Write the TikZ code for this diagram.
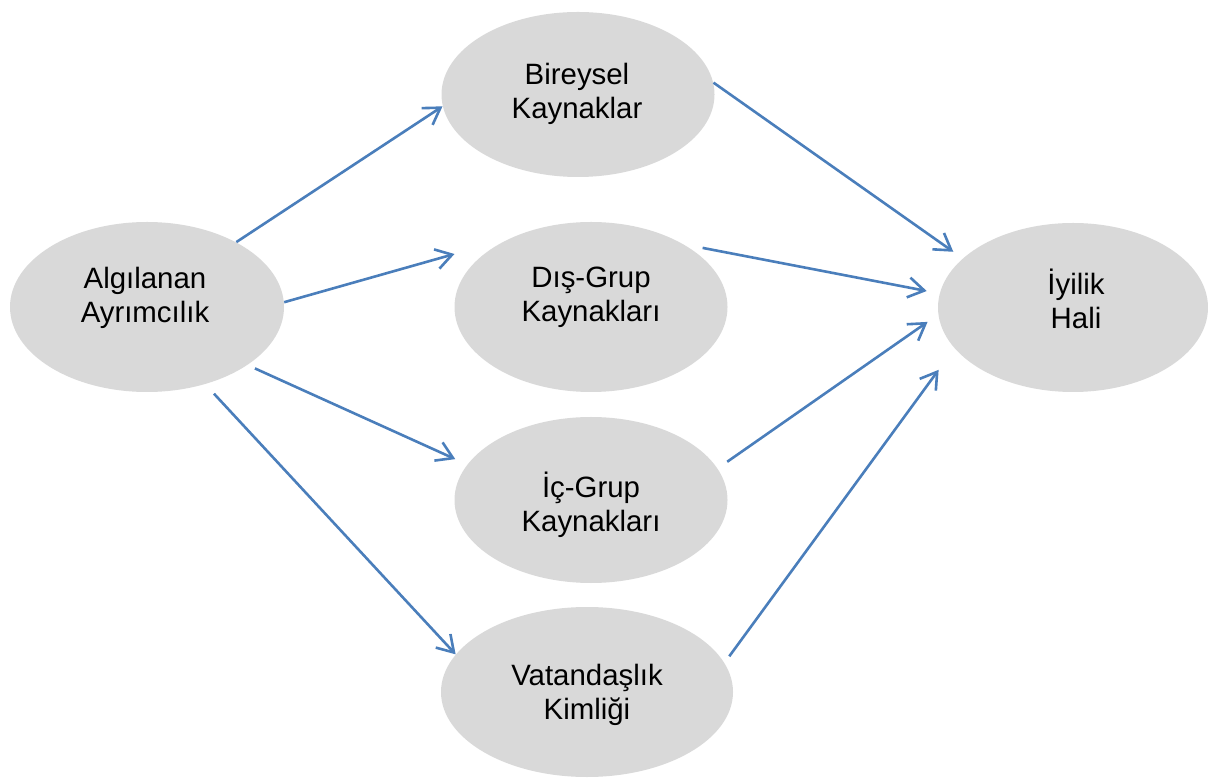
\documentclass[tikz,border=0pt]{standalone}
\usepackage{fontspec}
\setmainfont{Liberation Sans}
\usepackage{xcolor}
\usepackage{tikz}
\usetikzlibrary{arrows.meta}
\usetikzlibrary{shapes.geometric}
\definecolor{ovalgray}{HTML}{D9D9D9}
\definecolor{linkblue}{HTML}{4A7EBB}
\tikzstyle{oval}=[ellipse,fill=ovalgray,draw=none,inner sep=0pt]
\tikzstyle{lbl}=[align=center,font=\fontsize{14.7}{17}\selectfont]
\tikzstyle{lk}=[draw=linkblue,line width=1.3pt,-{Straight Barb[length=8pt,width=10pt]}]
\begin{document}
\begin{tikzpicture}[x=0.5pt,y=-0.5pt]
	\useasboundingbox (0,0) rectangle (1208,779);
	\node[oval,minimum width=137pt,minimum height=85pt] (ayr) at (147,307) {};
	\node[oval,minimum width=136.5pt,minimum height=82.5pt] (bir) at (578,94.5) {};
	\node[oval,minimum width=136.5pt,minimum height=85pt] (dis) at (591,307) {};
	\node[oval,minimum width=136.5pt,minimum height=83pt] (ic) at (591,500) {};
	\node[oval,minimum width=146pt,minimum height=85pt] (vat) at (587,692) {};
	\node[oval,minimum width=135pt,minimum height=84.5pt] (iyi) at (1073,307.5) {};
	%
	\node[lbl] (ayr-t) at (145,297.5) {Algılanan\\Ayrımcılık};
	\node[lbl] (bir-t) at (577,93.5) {Bireysel\\Kaynaklar};
	\node[lbl] (dis-t) at (591,297.5) {Dış-Grup\\Kaynakları};
	\node[lbl] (ic-t) at (591,505) {İç-Grup\\Kaynakları};
	\node[lbl] (vat-t) at (587,694.5) {Vatandaşlık\\Kimliği};
	\node[lbl] (iyi-t) at (1076,298.5) {İyilik\\Hali};
%
	\draw[lk] (ayr.36) -- (bir.185);
	\draw[lk,shorten >=28.5pt] (ayr.2) -- (dis.140);
	\draw[lk,shorten <=4pt,shorten >=6.5pt] (ayr.330) -- (ic.164.5);
	\draw[lk,shorten <=6.4pt] (ayr.307.7) -- (vat.164);
	\draw[lk,shorten >=5.7pt] (bir.5) -- (iyi.156.8);
	\draw[lk,shorten <=9.5pt,shorten >=6.5pt] (dis.34) -- (iyi.174);
	\draw[lk,shorten <=5.8pt,shorten >=6.4pt] (ic.14) -- (iyi.183);
	\draw[lk,shorten <=4pt,shorten >=13.3pt] (vat.12.7) -- (iyi.199.8);
\end{tikzpicture}
\end{document}
